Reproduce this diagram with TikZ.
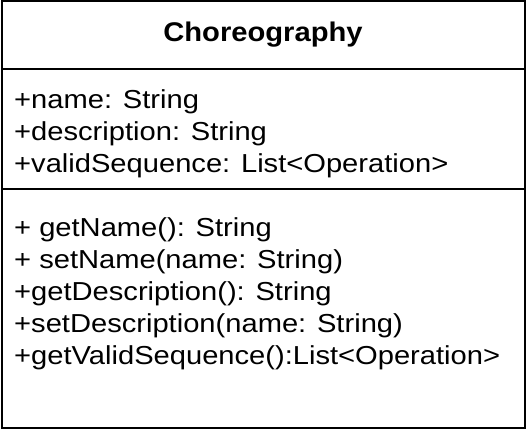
\documentclass[tikz,border=0pt]{standalone}
\usepackage{fontspec}
\setmainfont{Liberation Sans}[FakeStretch=1.12]
\newfontfamily\titlefont{Liberation Sans}[FakeStretch=1.08]
\begin{document}
\begin{tikzpicture}[x=1pt,y=-1pt,
  member/.style={anchor=base west,inner sep=0pt,font=\fontsize{26}{26}\selectfont},
  classname/.style={anchor=base,inner sep=0pt,font=\titlefont\bfseries\fontsize{27}{27}\selectfont},
  frame/.style={draw=black,line width=2pt}]
\useasboundingbox (0,0) rectangle (528,430);
% class box and compartment dividers
\draw[frame] (2,1.5) rectangle (525,428);
\draw[frame] (2,69) -- (525,69);
\draw[frame] (2,189.3) -- (525,189.3);
% class name
\node[classname] (title) at (263,42) {Choreography};
% attributes
\node[member] (a1) at (14,109) {+name: String};
\node[member] (a2) at (14,141) {+description: String};
\node[member] (a3) at (14,173) {+validSequence: List<Operation>};
% operations
\node[member] (m1) at (14,237) {+ getName(): String};
\node[member] (m2) at (14,269) {+ setName(name: String)};
\node[member] (m3) at (14,301) {+getDescription(): String};
\node[member] (m4) at (14,333) {+setDescription(name: String)};
\node[member] (m5) at (14,365) {+getValidSequence():List<Operation>};
\end{tikzpicture}
\end{document}
